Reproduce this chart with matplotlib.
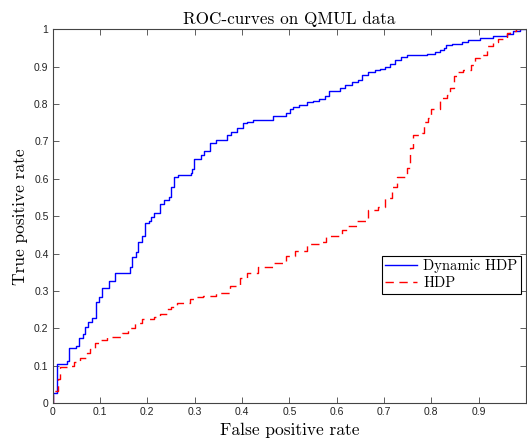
import matplotlib
matplotlib.use('Agg')
import matplotlib.pyplot as plt

# ROC points (fpr where the curve jumps, tpr after the jump)
dyn_fpr = [0, 0, 0.0085, 0.03, 0.035, 0.049, 0.056, 0.063, 0.068, 0.075, 0.084, 0.091, 0.098,
           0.105, 0.118, 0.132, 0.163, 0.168, 0.175, 0.181, 0.188, 0.195, 0.203, 0.208, 0.213,
           0.227, 0.236, 0.245, 0.25, 0.257, 0.265, 0.292, 0.294, 0.298, 0.313, 0.32, 0.333,
           0.346, 0.368, 0.376, 0.39, 0.403, 0.411, 0.424, 0.466, 0.493, 0.501, 0.508, 0.521,
           0.537, 0.551, 0.563, 0.575, 0.584, 0.607, 0.617, 0.632, 0.646, 0.653, 0.667, 0.681,
           0.692, 0.702, 0.713, 0.723, 0.737, 0.749, 0.79, 0.808, 0.818, 0.827, 0.832, 0.843,
           0.864, 0.878, 0.903, 0.931, 0.959, 0.973, 0.987, 1.0]
dyn_tpr = [0, 0.027, 0.105, 0.112, 0.147, 0.154, 0.174, 0.185, 0.205, 0.218, 0.229, 0.272, 0.285,
           0.308, 0.327, 0.348, 0.365, 0.39, 0.405, 0.43, 0.446, 0.482, 0.486, 0.499, 0.508,
           0.533, 0.543, 0.551, 0.577, 0.606, 0.611, 0.616, 0.626, 0.653, 0.663, 0.675, 0.695,
           0.703, 0.716, 0.724, 0.737, 0.749, 0.753, 0.758, 0.767, 0.776, 0.787, 0.792, 0.798,
           0.805, 0.808, 0.814, 0.822, 0.836, 0.843, 0.85, 0.859, 0.865, 0.878, 0.885, 0.89,
           0.894, 0.9, 0.908, 0.918, 0.925, 0.932, 0.933, 0.938, 0.943, 0.95, 0.959, 0.961,
           0.965, 0.972, 0.976, 0.983, 0.988, 0.994, 1.0, 1.0]

hdp_fpr = [0, 0, 0.012, 0.015, 0.03, 0.044, 0.058, 0.072, 0.079, 0.089, 0.1, 0.114, 0.146, 0.16,
           0.174, 0.188, 0.213, 0.227, 0.241, 0.251, 0.262, 0.29, 0.304, 0.318, 0.346, 0.375,
           0.396, 0.41, 0.434, 0.466, 0.494, 0.512, 0.537, 0.565, 0.578, 0.611, 0.621, 0.642,
           0.667, 0.688, 0.702, 0.716, 0.728, 0.748, 0.756, 0.762, 0.78, 0.785, 0.794, 0.799,
           0.818, 0.833, 0.839, 0.848, 0.857, 0.868, 0.883, 0.892, 0.903, 0.917, 0.931, 0.941,
           0.959, 0.966, 0.98, 1.0]
hdp_tpr = [0, 0.034, 0.065, 0.097, 0.1, 0.111, 0.12, 0.135, 0.144, 0.16, 0.169, 0.176, 0.187, 0.2,
           0.214, 0.225, 0.232, 0.239, 0.251, 0.258, 0.269, 0.278, 0.284, 0.287, 0.296, 0.314,
           0.334, 0.348, 0.365, 0.375, 0.394, 0.408, 0.425, 0.432, 0.448, 0.462, 0.474, 0.486,
           0.517, 0.526, 0.548, 0.578, 0.606, 0.63, 0.683, 0.718, 0.723, 0.753, 0.762, 0.787,
           0.816, 0.825, 0.843, 0.874, 0.885, 0.892, 0.905, 0.923, 0.932, 0.956, 0.967, 0.974,
           0.99, 0.995, 1.0, 1.0]

x_ticks = [0, 0.1, 0.2, 0.3, 0.4, 0.5, 0.6, 0.7, 0.8, 0.9, 1]
x_labels = ['0', '0.1', '0.2', '0.3', '0.4', '0.5', '0.6', '0.7', '0.8', '0.9', '']
y_ticks = [0, 0.1, 0.2, 0.3, 0.4, 0.5, 0.6, 0.7, 0.8, 0.9, 1]
y_labels = ['0', '0.1', '0.2', '0.3', '0.4', '0.5', '0.6', '0.7', '0.8', '0.9', '1']

serif = 'cmr10'

fig = plt.figure(figsize=(5.27, 4.42), dpi=100)
ax = fig.add_axes([0.1, 0.0875, 0.898, 0.8465])

ax.plot(dyn_fpr, dyn_tpr, drawstyle='steps-post', color='#0000ff', lw=1.0, label='Dynamic HDP')
ax.plot(hdp_fpr, hdp_tpr, drawstyle='steps-post', color='#ff0000', lw=1.0, dashes=(6, 4), label='HDP')

ax.set_xlim(0, 1)
ax.set_ylim(0, 1)
ax.set_xticks(x_ticks)
ax.set_xticklabels(x_labels)
ax.set_yticks(y_ticks)
ax.set_yticklabels(y_labels)
ax.tick_params(direction='in', top=True, right=True, length=4, width=0.6, color='#444444',
               labelsize=7.5, pad=3, labelcolor='#222222')
for lab in ax.get_xticklabels() + ax.get_yticklabels():
    lab.set_fontfamily('Liberation Sans')
for sp in ax.spines.values():
    sp.set_linewidth(0.8)
    sp.set_color('#444444')

ax.set_title('ROC-curves on QMUL data', fontname=serif, fontsize=12.3, pad=4)
ax.set_xlabel('False positive rate', fontname=serif, fontsize=12.5, labelpad=4)
ax.set_ylabel('True positive rate', fontname=serif, fontsize=12.5, labelpad=4)

leg = ax.legend(loc='center right', bbox_to_anchor=(0.99, 0.344), prop={'family': serif, 'size': 10.5},
                fancybox=False, edgecolor='black', framealpha=1, handlelength=2.2,
                borderpad=0.25, labelspacing=0.2, handletextpad=0.4, borderaxespad=0)
leg.get_frame().set_linewidth(0.8)

fig.savefig('out.png', dpi=100)
